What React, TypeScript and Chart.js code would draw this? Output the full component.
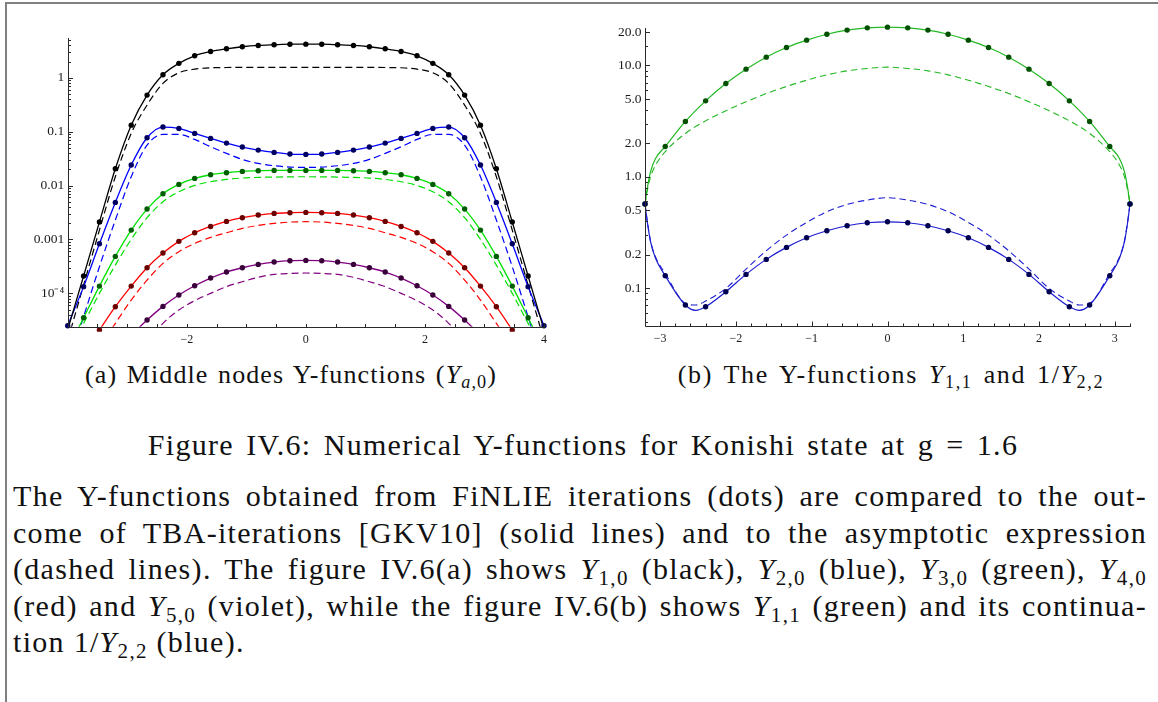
import React, { useEffect, useRef } from 'react';
import { Chart, registerables } from 'chart.js';

Chart.register(...registerables);

const SERIF = '"Liberation Serif", "Times New Roman", Times, serif';
Chart.defaults.font.family = SERIF;
Chart.defaults.font.size = 13;

// ---------- (a) middle nodes Y_{a,0} ----------
const U_A = [-4.0, -3.733, -3.467, -3.2, -2.933, -2.667, -2.4, -2.133, -1.867, -1.6, -1.333, -1.067, -0.8, -0.533, -0.267, 0, 0.267, 0.533, 0.8, 1.067, 1.333, 1.6, 1.867, 2.133, 2.4, 2.667, 2.933, 3.2, 3.467, 3.733, 4.0];

const Y1_DOTS = [null, 2.09e-4, 2.1e-3, 0.0205, 0.132, 0.477, 1.14, 1.85, 2.56, 3.08, 3.45, 3.76, 3.98, 4.1, 4.2, 4.21, 4.2, 4.1, 3.98, 3.76, 3.45, 3.08, 2.56, 1.85, 1.14, 0.477, 0.132, 0.0205, 2.1e-3, 2.09e-4, null];
const Y1_TBA = [2.1e-5, 2.09e-4, 2.1e-3, 0.0205, 0.132, 0.477, 1.14, 1.85, 2.56, 3.08, 3.45, 3.76, 3.98, 4.1, 4.2, 4.21, 4.2, 4.1, 3.98, 3.76, 3.45, 3.08, 2.56, 1.85, 1.14, 0.477, 0.132, 0.0205, 2.1e-3, 2.09e-4, 2.1e-5];
const Y1_ASY = [1.35e-5, 1.42e-4, 1.49e-3, 0.01456, 0.0927, 0.311, 0.785, 1.238, 1.448, 1.533, 1.55, 1.555, 1.555, 1.555, 1.555, 1.555, 1.555, 1.555, 1.555, 1.555, 1.55, 1.533, 1.448, 1.238, 0.785, 0.311, 0.0927, 0.01456, 1.49e-3, 1.42e-4, 1.35e-5];

const Y2_DOTS = [2.5e-5, 1.33e-4, 8.3e-4, 4.86e-3, 0.024, 0.077, 0.1216, 0.1148, 0.0927, 0.0749, 0.0613, 0.0518, 0.0455, 0.0412, 0.0384, 0.0378, 0.0384, 0.0412, 0.0455, 0.0518, 0.0613, 0.0749, 0.0927, 0.1148, 0.1216, 0.077, 0.024, 4.86e-3, 8.3e-4, 1.33e-4, 2.5e-5];
const Y2_TBA = [2.5e-5, 1.33e-4, 8.3e-4, 4.86e-3, 0.024, 0.077, 0.1216, 0.1148, 0.0927, 0.0749, 0.0613, 0.0518, 0.0455, 0.0412, 0.0384, 0.0378, 0.0384, 0.0412, 0.0455, 0.0518, 0.0613, 0.0749, 0.0927, 0.1148, 0.1216, 0.077, 0.024, 4.86e-3, 8.3e-4, 1.33e-4, 2.5e-5];
const Y2_ASY = [4.4e-6, 3.68e-5, 3.11e-4, 2.29e-3, 0.01457, 0.0563, 0.0889, 0.0889, 0.0718, 0.0525, 0.0395, 0.0305, 0.0257, 0.0233, 0.022, 0.0217, 0.022, 0.0233, 0.0257, 0.0305, 0.0395, 0.0525, 0.0718, 0.0889, 0.0889, 0.0563, 0.01457, 2.29e-3, 3.11e-4, 3.68e-5, 4.4e-6];

const Y3_DOTS = [null, 3.52e-5, 1.36e-4, 4.84e-4, 1.49e-3, 3.66e-3, 7.04e-3, 0.0105, 0.01355, 0.01585, 0.01726, 0.01828, 0.01883, 0.0191, 0.0191, 0.0191, 0.0191, 0.0191, 0.01883, 0.01828, 0.01726, 0.01585, 0.01355, 0.0105, 7.04e-3, 3.66e-3, 1.49e-3, 4.84e-4, 1.36e-4, 3.52e-5, null];
const Y3_TBA = [9e-6, 3.52e-5, 1.36e-4, 4.84e-4, 1.49e-3, 3.66e-3, 7.04e-3, 0.0105, 0.01355, 0.01585, 0.01726, 0.01828, 0.01883, 0.0191, 0.0191, 0.0191, 0.0191, 0.0191, 0.01883, 0.01828, 0.01726, 0.01585, 0.01355, 0.0105, 7.04e-3, 3.66e-3, 1.49e-3, 4.84e-4, 1.36e-4, 3.52e-5, 9e-6];
const Y3_ASY = [8e-6, 2.77e-5, 9.97e-5, 3.34e-4, 1.0e-3, 2.53e-3, 5.0e-3, 7.67e-3, 0.01005, 0.01177, 0.013, 0.01377, 0.01416, 0.01436, 0.0145, 0.01456, 0.0145, 0.01436, 0.01416, 0.01377, 0.013, 0.01177, 0.01005, 7.67e-3, 5.0e-3, 2.53e-3, 1.0e-3, 3.34e-4, 9.97e-5, 2.77e-5, 8e-6];

const Y4_DOTS = [null, null, 2.08e-5, 5.64e-5, 1.36e-4, 2.98e-4, 5.58e-4, 9.2e-4, 1.33e-3, 1.74e-3, 2.16e-3, 2.53e-3, 2.83e-3, 3.04e-3, 3.13e-3, 3.17e-3, 3.13e-3, 3.04e-3, 2.83e-3, 2.53e-3, 2.16e-3, 1.74e-3, 1.33e-3, 9.2e-4, 5.58e-4, 2.98e-4, 1.36e-4, 5.64e-5, 2.08e-5, null, null];
const Y4_TBA = [null, 7.7e-6, 2.08e-5, 5.64e-5, 1.36e-4, 2.98e-4, 5.58e-4, 9.2e-4, 1.33e-3, 1.74e-3, 2.16e-3, 2.53e-3, 2.83e-3, 3.04e-3, 3.13e-3, 3.17e-3, 3.13e-3, 3.04e-3, 2.83e-3, 2.53e-3, 2.16e-3, 1.74e-3, 1.33e-3, 9.2e-4, 5.58e-4, 2.98e-4, 1.36e-4, 5.64e-5, 2.08e-5, 7.7e-6, null];
const Y4_ASY = [null, null, 1.02e-5, 2.77e-5, 7.5e-5, 1.76e-4, 3.59e-4, 5.91e-4, 8.44e-4, 1.09e-3, 1.33e-3, 1.6e-3, 1.82e-3, 1.98e-3, 2.1e-3, 2.13e-3, 2.1e-3, 1.98e-3, 1.82e-3, 1.6e-3, 1.33e-3, 1.09e-3, 8.44e-4, 5.91e-4, 3.59e-4, 1.76e-4, 7.5e-5, 2.77e-5, 1.02e-5, null, null];

const Y5_DOTS = [null, null, null, null, null, 3.19e-5, 5.72e-5, 9.29e-5, 1.38e-4, 1.92e-4, 2.48e-4, 2.98e-4, 3.44e-4, 3.8e-4, 4.03e-4, 4.08e-4, 4.03e-4, 3.8e-4, 3.44e-4, 2.98e-4, 2.48e-4, 1.92e-4, 1.38e-4, 9.29e-5, 5.72e-5, 3.19e-5, null, null, null, null, null];
const Y5_TBA = [null, null, null, null, 1.66e-5, 3.19e-5, 5.72e-5, 9.29e-5, 1.38e-4, 1.92e-4, 2.48e-4, 2.98e-4, 3.44e-4, 3.8e-4, 4.03e-4, 4.08e-4, 4.03e-4, 3.8e-4, 3.44e-4, 2.98e-4, 2.48e-4, 1.92e-4, 1.38e-4, 9.29e-5, 5.72e-5, 3.19e-5, 1.66e-5, null, null, null, null];
const Y5_ASY = [null, null, null, null, null, 1.26e-5, 2.77e-5, 4.9e-5, 7.29e-5, 9.97e-5, 1.33e-4, 1.64e-4, 1.98e-4, 2.25e-4, 2.34e-4, 2.38e-4, 2.34e-4, 2.25e-4, 1.98e-4, 1.64e-4, 1.33e-4, 9.97e-5, 7.29e-5, 4.9e-5, 2.77e-5, 1.26e-5, null, null, null, null, null];

const A_X_MAJOR = [-2, 0, 2, 4];
const A_X_LABELS = ['\u22122', '0', '2', '4'];
const A_X_MINOR = [-3.5, -3, -2.5, -1.5, -1, -0.5, 0.5, 1, 1.5, 2.5, 3, 3.5];
const A_Y_MAJOR = [1e-4, 1e-3, 0.01, 0.1, 1];
const A_Y_LABELS = ['10\u207B\u2074', '0.001', '0.01', '0.1', '1'];

// ---------- (b) Y_{1,1} and 1/Y_{2,2} ----------
const U_B = [-3.2, -2.933, -2.667, -2.4, -2.133, -1.867, -1.6, -1.333, -1.067, -0.8, -0.533, -0.267, 0, 0.267, 0.533, 0.8, 1.067, 1.333, 1.6, 1.867, 2.133, 2.4, 2.667, 2.933, 3.2];
const Y11_DOTS = [0.57, 1.87, 3.14, 4.81, 6.89, 9.27, 11.88, 14.5, 16.9, 19.1, 20.8, 21.8, 22.1, 21.8, 20.8, 19.1, 16.9, 14.5, 11.88, 9.27, 6.89, 4.81, 3.14, 1.87, 0.57];
const IY22_DOTS = [0.57, 0.129, 0.0704, 0.068, 0.0927, 0.1327, 0.181, 0.232, 0.283, 0.327, 0.363, 0.386, 0.394, 0.386, 0.363, 0.327, 0.283, 0.232, 0.181, 0.1327, 0.0927, 0.068, 0.0704, 0.129, 0.57];

const U_B_GREEN = [-3.2, -3.17, -3.127, -3.061, -2.933, -2.667, -2.4, -2.133, -1.867, -1.6, -1.333, -1.067, -0.8, -0.533, -0.267, 0, 0.267, 0.533, 0.8, 1.067, 1.333, 1.6, 1.867, 2.133, 2.4, 2.667, 2.933, 3.061, 3.127, 3.17, 3.2];
const Y11_TBA = [0.57, 0.785, 1.11, 1.46, 1.87, 3.14, 4.81, 6.89, 9.27, 11.88, 14.5, 16.9, 19.1, 20.8, 21.8, 22.1, 21.8, 20.8, 19.1, 16.9, 14.5, 11.88, 9.27, 6.89, 4.81, 3.14, 1.87, 1.46, 1.11, 0.785, 0.57];
const Y11_ASY = [0.57, 0.75, 1.0, 1.27, 1.68, 2.45, 3.18, 3.92, 4.72, 5.6, 6.48, 7.38, 8.24, 8.95, 9.4, 9.66, 9.4, 8.95, 8.24, 7.38, 6.48, 5.6, 4.72, 3.92, 3.18, 2.45, 1.68, 1.27, 1.0, 0.75, 0.57];

const U_B_BLUE = [-3.2, -3.17, -3.127, -3.061, -2.933, -2.667, -2.53, -2.4, -2.133, -1.867, -1.6, -1.333, -1.067, -0.8, -0.533, -0.267, 0, 0.267, 0.533, 0.8, 1.067, 1.333, 1.6, 1.867, 2.133, 2.4, 2.53, 2.667, 2.933, 3.061, 3.127, 3.17, 3.2];
const IY22_TBA = [0.57, 0.394, 0.261, 0.185, 0.129, 0.0704, 0.063, 0.068, 0.0927, 0.1327, 0.181, 0.232, 0.283, 0.327, 0.363, 0.386, 0.394, 0.386, 0.363, 0.327, 0.283, 0.232, 0.181, 0.1327, 0.0927, 0.068, 0.063, 0.0704, 0.129, 0.185, 0.261, 0.394, 0.57];
const IY22_ASY = [0.57, 0.4, 0.265, 0.19, 0.135, 0.0728, 0.0704, 0.0764, 0.0993, 0.148, 0.216, 0.299, 0.389, 0.485, 0.564, 0.617, 0.648, 0.617, 0.564, 0.485, 0.389, 0.299, 0.216, 0.148, 0.0993, 0.0764, 0.0704, 0.0728, 0.135, 0.19, 0.265, 0.4, 0.57];

const B_X_MAJOR = [-3, -2, -1, 0, 1, 2, 3];
const B_X_LABELS = ['\u22123', '\u22122', '\u22121', '0', '1', '2', '3'];
const B_X_MINOR = [-3.2, -2.8, -2.6, -2.4, -2.2, -1.8, -1.6, -1.4, -1.2, -0.8, -0.6, -0.4, -0.2, 0.2, 0.4, 0.6, 0.8, 1.2, 1.4, 1.6, 1.8, 2.2, 2.4, 2.6, 2.8, 3.2];
const B_Y_MAJOR = [0.1, 0.2, 0.5, 1, 2, 5, 10, 20];
const B_Y_LABELS = ['0.1', '0.2', '0.5', '1.0', '2.0', '5.0', '10.0', '20.0'];
const B_Y_MINOR = [0.05, 0.06, 0.07, 0.08, 0.09, 0.3, 0.4, 0.6, 0.7, 0.8, 0.9, 3, 4, 6, 7, 8, 9, 15];

const pts = (xs: number[], ys: (number | null)[]) =>
  xs.map((x, i) => ({ x, y: ys[i] })).filter((p) => p.y !== null && p.y !== undefined);

const tickMarks = {
  id: 'tickMarks',
  afterDraw(chart: any, _a: any, o: any) {
    const { ctx, chartArea, scales } = chart;
    const xs = scales.x;
    const ys = scales.y;
    const b = Math.round(chartArea.bottom) + 0.5;
    const l = Math.round(chartArea.left) + 0.5;
    ctx.save();
    ctx.strokeStyle = '#2a2a2a';
    ctx.lineWidth = 1;
    ctx.beginPath();
    ctx.moveTo(l, Math.round(chartArea.top + o.axisTopInset));
    ctx.lineTo(l, b);
    ctx.lineTo(Math.round(chartArea.right) + 1, b);
    const drawX = (vals: number[], len: number) => {
      for (const v of vals) {
        const px = Math.round(xs.getPixelForValue(v)) + 0.5;
        ctx.moveTo(px, b);
        ctx.lineTo(px, b - len);
      }
    };
    const drawY = (vals: number[], len: number) => {
      for (const v of vals) {
        const py = Math.round(ys.getPixelForValue(v)) + 0.5;
        if (py < chartArea.top + o.axisTopInset || py > chartArea.bottom + 1) continue;
        ctx.moveTo(l, py);
        ctx.lineTo(l + len, py);
      }
    };
    drawX(o.xMajor, o.xMajorLen);
    drawX(o.xMinor, o.xMinorLen);
    drawY(o.yMajor, o.yMajorLen);
    drawY(o.yMinor, o.yMinorLen);
    ctx.stroke();
    ctx.restore();
  },
};

function solid(data: any[], color: string, w = 1.3) {
  return { data, showLine: true, borderColor: color, borderWidth: w, pointRadius: 0, cubicInterpolationMode: 'monotone', fill: false };
}
function dashed(data: any[], color: string, dash = [7, 4], w = 1.2) {
  return { data, showLine: true, borderColor: color, borderWidth: w, borderDash: dash, pointRadius: 0, cubicInterpolationMode: 'monotone', fill: false };
}
function dots(data: any[], color: string) {
  return { data, showLine: false, pointRadius: 2.7, pointBackgroundColor: color, pointBorderWidth: 0, borderColor: color, clip: 5 };
}

const X_FONT = { family: SERIF, size: 12, style: 'normal', weight: 'normal', lineHeight: 1.2 };
const Y_FONT = { family: SERIF, size: 13.5, style: 'normal', weight: 'normal', lineHeight: 1.2 };

function makeOptions(cfg: any) {
  return {
    responsive: false,
    animation: false,
    events: [],
    layout: { padding: cfg.padding },
    plugins: { legend: { display: false }, tooltip: { enabled: false }, tickMarks: cfg.ticks },
    scales: {
      x: {
        type: 'linear',
        min: cfg.xMin,
        max: cfg.xMax,
        grid: { display: false, drawTicks: false },
        border: { display: false },
        afterBuildTicks: (s: any) => { s.ticks = cfg.ticks.xMajor.map((v: number) => ({ value: v })); },
        afterFit: (s: any) => { s.height = cfg.xHeight; },
        ticks: { font: X_FONT, color: '#1a1a1a', padding: 6, maxRotation: 0, autoSkip: false, callback: (_v: any, i: number) => cfg.xLabels[i] },
      },
      y: {
        type: 'logarithmic',
        min: cfg.yMin,
        max: cfg.yMax,
        grid: { display: false, drawTicks: false },
        border: { display: false },
        afterBuildTicks: (s: any) => { s.ticks = cfg.ticks.yMajor.map((v: number) => ({ value: v })); },
        afterFit: (s: any) => { s.width = cfg.yWidth; },
        ticks: { font: Y_FONT, color: '#1a1a1a', padding: 3.5, autoSkip: false, callback: (_v: any, i: number) => cfg.yLabels[i] },
      },
    },
  };
}

function ChartCanvas({ width, height, datasets, options, style }: any) {
  const ref = useRef<HTMLCanvasElement>(null);
  useEffect(() => {
    const chart = new Chart(ref.current as HTMLCanvasElement, {
      type: 'scatter',
      data: { datasets },
      options,
      plugins: [tickMarks],
    } as any);
    return () => chart.destroy();
  }, []);
  return <canvas ref={ref} width={width} height={height} style={{ position: 'absolute', width, height, ...style }} />;
}

const A_MINOR_Y: number[] = [];
for (const d of [1e-5, 1e-4, 1e-3, 1e-2, 1e-1, 1]) for (let m = 2; m <= 9; m++) A_MINOR_Y.push(m * d);

const C_BLACK = '#000000';
const C_BLUE = '#0000ff';
const C_GREEN = '#00e000';
const C_RED = '#ff0000';
const C_PURPLE = '#800080';

const datasetsA = [
  dots(pts(U_A, Y1_DOTS), '#000000'),
  dots(pts(U_A, Y2_DOTS), '#000060'),
  dots(pts(U_A, Y3_DOTS), '#005c00'),
  dots(pts(U_A, Y4_DOTS), '#6a0000'),
  dots(pts(U_A, Y5_DOTS), '#3a003a'),
  solid(pts(U_A, Y1_TBA), C_BLACK),
  solid(pts(U_A, Y2_TBA), C_BLUE),
  solid(pts(U_A, Y3_TBA), C_GREEN),
  solid(pts(U_A, Y4_TBA), C_RED),
  solid(pts(U_A, Y5_TBA), C_PURPLE),
  dashed(pts(U_A, Y1_ASY), C_BLACK),
  dashed(pts(U_A, Y2_ASY), C_BLUE),
  dashed(pts(U_A, Y3_ASY), C_GREEN),
  dashed(pts(U_A, Y4_ASY), C_RED),
  dashed(pts(U_A, Y5_ASY), C_PURPLE),
];

const optionsA = makeOptions({
  padding: { left: 0, right: 36, top: 38.3, bottom: 0 },
  xMin: -4, xMax: 4, yMin: 2.4e-5, yMax: 5.4,
  xHeight: 350 - 326.7, yWidth: 67.7,
  xLabels: A_X_LABELS, yLabels: A_Y_LABELS,
  ticks: { xMajor: A_X_MAJOR, xMinor: A_X_MINOR, yMajor: A_Y_MAJOR, yMinor: A_MINOR_Y, xMajorLen: 3.5, xMinorLen: 3.5, yMajorLen: 4.5, yMinorLen: 2.5, axisTopInset: 0 },
});

const C_B_GREEN = '#22b822';
const C_B_BLUE = '#1c1cd0';

const datasetsB = [
  dots(pts(U_B, IY22_DOTS), '#000050'),
  dots(pts(U_B, Y11_DOTS), '#005000'),
  solid(pts(U_B_GREEN, Y11_TBA), C_B_GREEN, 1.2),
  solid(pts(U_B_BLUE, IY22_TBA), C_B_BLUE, 1.2),
  dashed(pts(U_B_GREEN, Y11_ASY), C_B_GREEN, [6.5, 4], 1.1),
  dashed(pts(U_B_BLUE, IY22_ASY), C_B_BLUE, [6.5, 4], 1.1),
];

const optionsB = makeOptions({
  padding: { left: 0, right: 28, top: 26.3, bottom: 0 },
  xMin: -3.2, xMax: 3.2, yMin: 0.0456, yMax: 22.5,
  xHeight: 350 - 326, yWidth: 65,
  xLabels: B_X_LABELS, yLabels: B_Y_LABELS,
  ticks: { xMajor: B_X_MAJOR, xMinor: B_X_MINOR, yMajor: B_Y_MAJOR, yMinor: B_Y_MINOR, xMajorLen: 5, xMinorLen: 3, yMajorLen: 4.5, yMinorLen: 2.5, axisTopInset: 1.5 },
});

const Sub = ({ children }: any) => (
  <sub style={{ fontSize: '0.7em', verticalAlign: '-0.28em', lineHeight: 0 }}>{children}</sub>
);
const Yv = ({ s }: { s: React.ReactNode }) => (
  <span style={{ whiteSpace: 'nowrap' }}><i>Y</i><Sub>{s}</Sub></span>
);

const lineStyle = (top: number, last = false): React.CSSProperties => ({
  position: 'absolute',
  left: 13,
  width: 1134,
  top,
  fontSize: 30,
  lineHeight: '36px',
  letterSpacing: 1.3,
  textAlign: 'justify',
  textAlignLast: last ? 'left' : 'justify',
  whiteSpace: 'nowrap',
});

const capStyle = (cx: number, ls: number, ws: number): React.CSSProperties => ({
  position: 'absolute',
  left: cx,
  top: 361,
  transform: 'translateX(-50%)',
  fontSize: 26,
  lineHeight: '28px',
  letterSpacing: ls,
  wordSpacing: ws,
  whiteSpace: 'nowrap',
});

export default function App() {
  return (
    <div style={{ position: 'fixed', left: 0, top: 0, width: 1158, height: 702, background: '#fff', overflow: 'hidden', fontFamily: SERIF, color: '#111' }}>
      <div style={{ position: 'absolute', left: 5, top: 2, width: 1200, height: 800, borderTop: '2px solid #808080', borderLeft: '2px solid #808080' }} />
      <ChartCanvas width={580} height={350} datasets={datasetsA} options={optionsA} style={{ left: 0, top: 0 }} />
      <ChartCanvas width={578} height={350} datasets={datasetsB} options={optionsB} style={{ left: 580, top: 0 }} />

      <div style={capStyle(291, 1.1, 2)}>
        (a) Middle nodes Y-functions (<Yv s={<><i>a</i>,0</>} />)
      </div>
      <div style={capStyle(891, 1.6, 3)}>
        (b) The Y-functions <Yv s="1,1" /> and 1/<Yv s="2,2" />
      </div>
      <div style={{ position: 'absolute', left: 583, top: 428, transform: 'translateX(-50%)', fontSize: 30, lineHeight: '34px', whiteSpace: 'nowrap', letterSpacing: 1.3, wordSpacing: 3.5 }}>
        Figure IV.6: Numerical Y-functions for Konishi state at g = 1.6
      </div>

      <div style={lineStyle(478)}>The Y-functions obtained from FiNLIE iterations (dots) are compared to the out-</div>
      <div style={lineStyle(514.5)}>come of TBA-iterations [GKV10] (solid lines) and to the asymptotic expression</div>
      <div style={lineStyle(551)}>(dashed lines). The figure IV.6(a) shows <Yv s="1,0" /> (black), <Yv s="2,0" /> (blue), <Yv s="3,0" /> (green), <Yv s="4,0" /></div>
      <div style={lineStyle(587.5)}>(red) and <Yv s="5,0" /> (violet), while the figure IV.6(b) shows <Yv s="1,1" /> (green) and its continua-</div>
      <div style={lineStyle(624, true)}>tion 1/<Yv s="2,2" /> (blue).</div>
    </div>
  );
}
